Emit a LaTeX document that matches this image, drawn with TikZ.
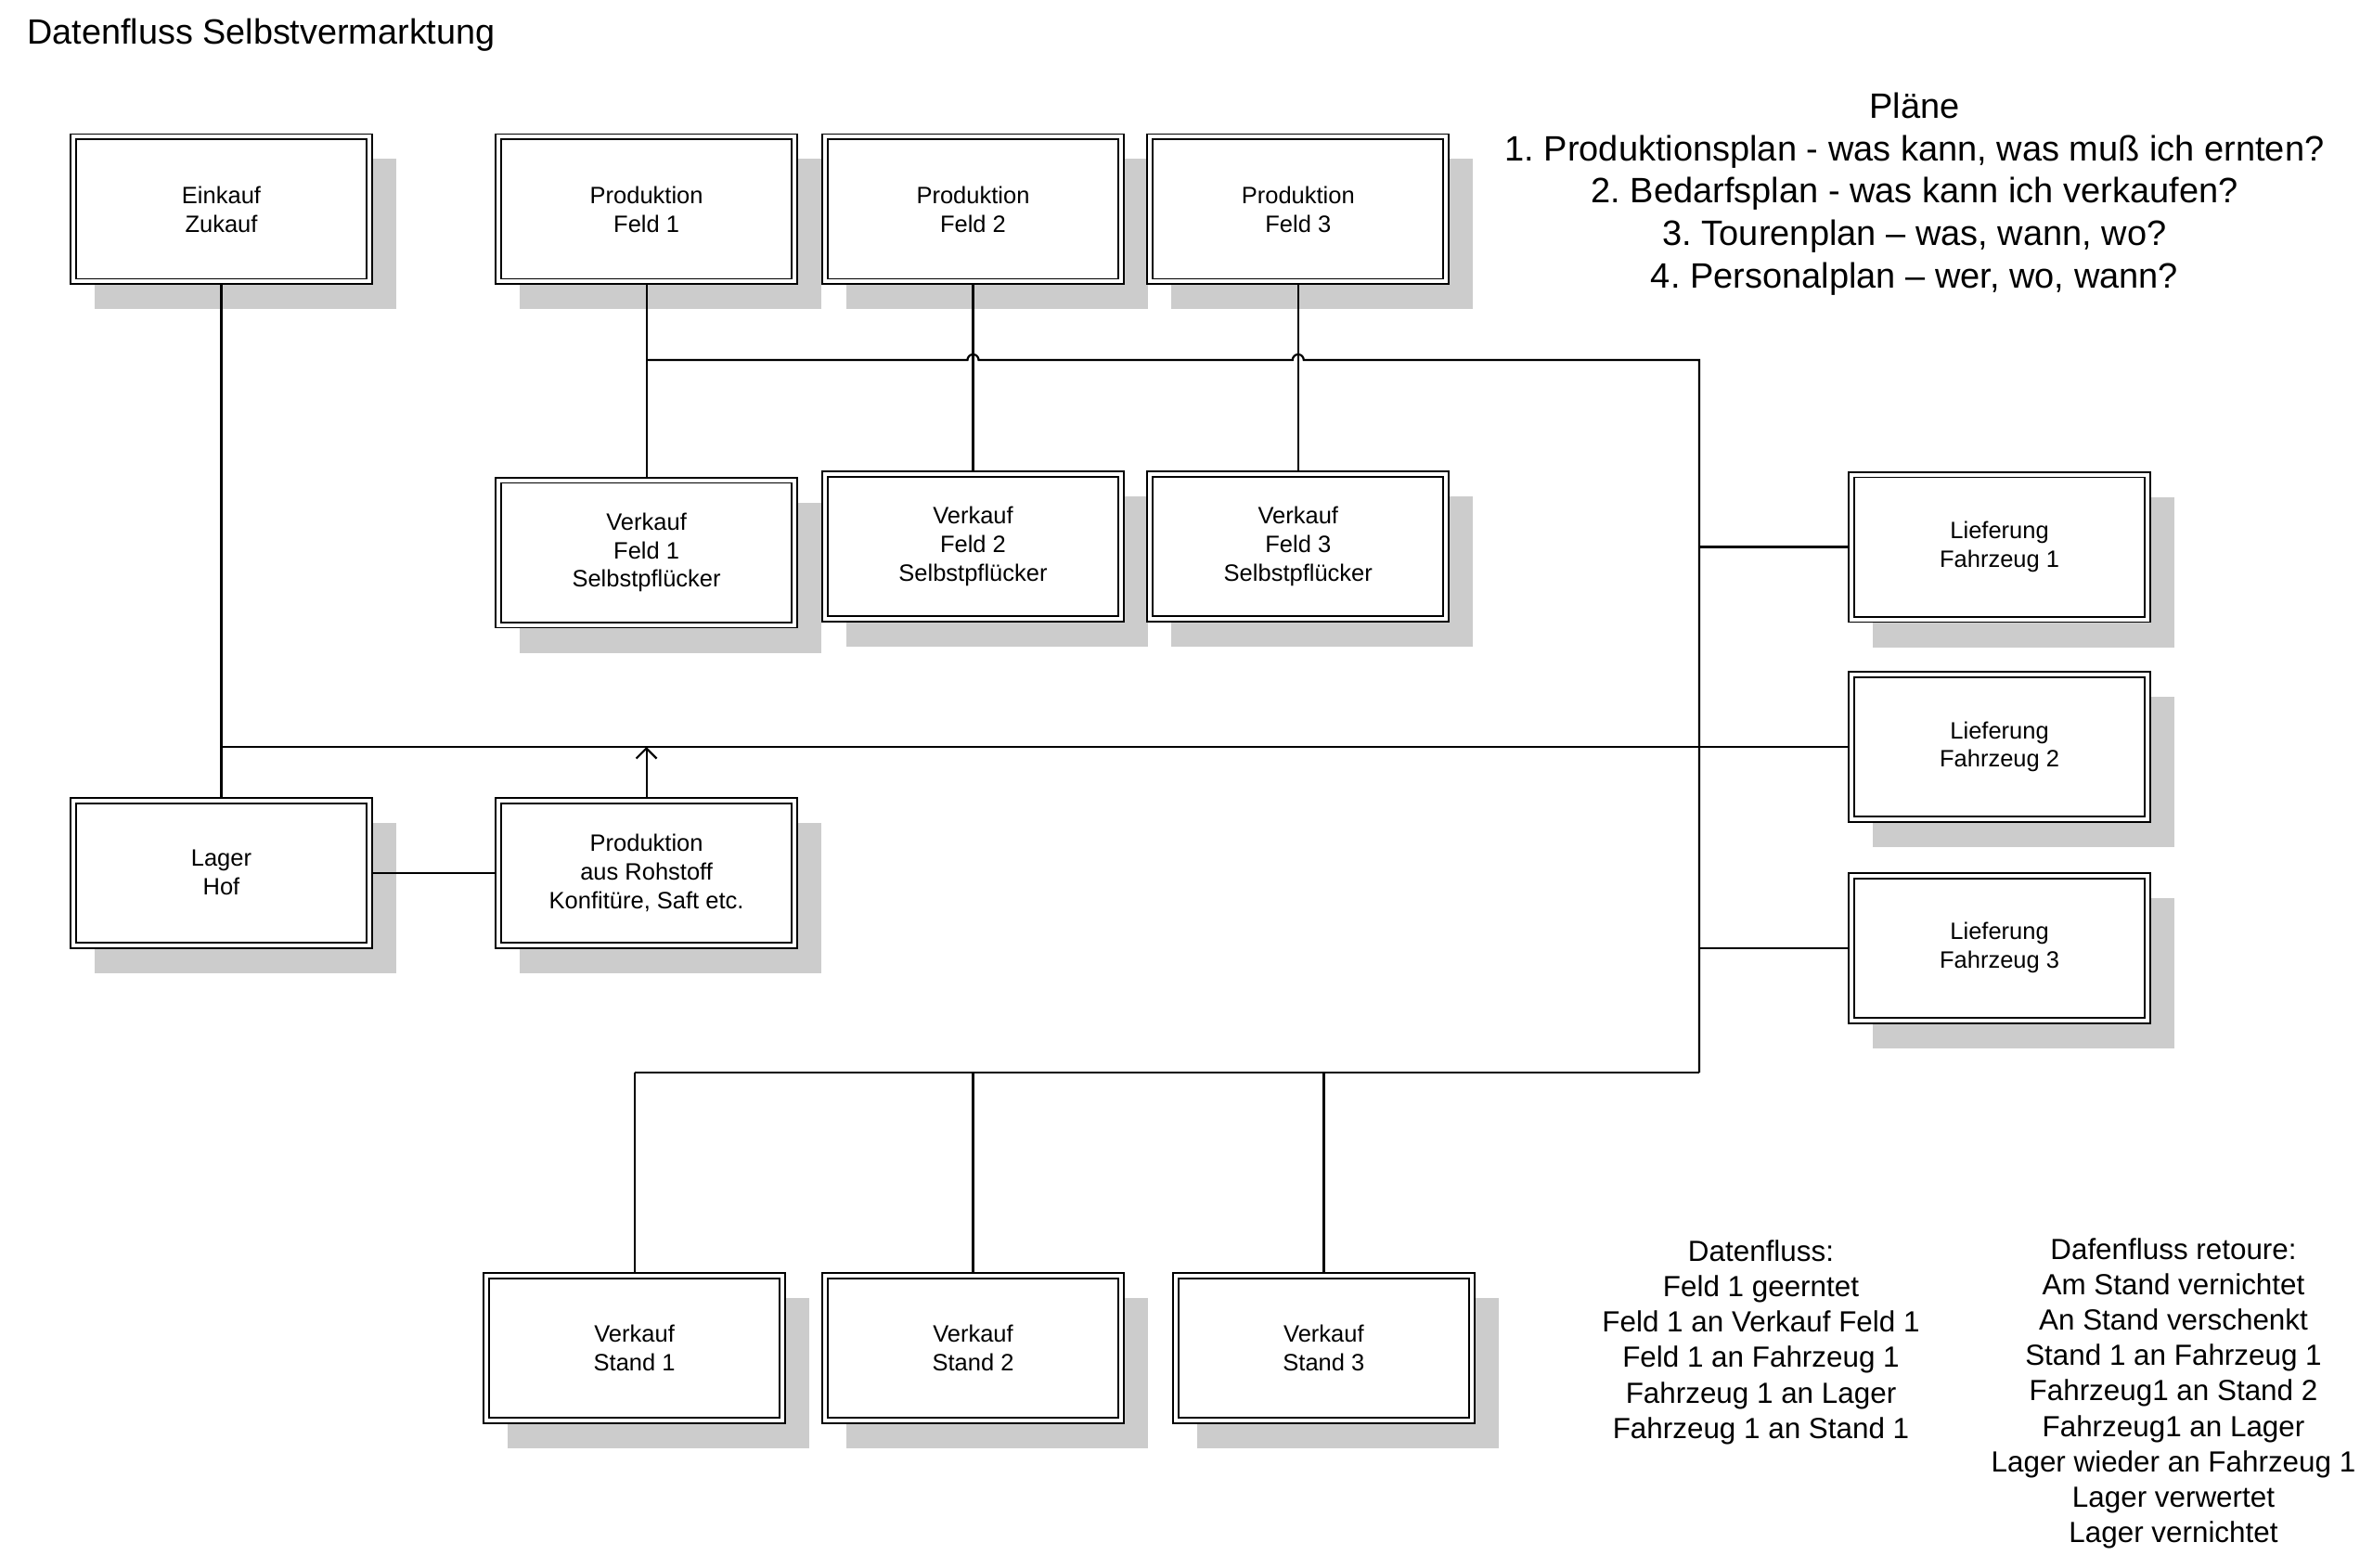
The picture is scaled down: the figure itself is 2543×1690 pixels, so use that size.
\documentclass[tikz,border=0pt]{standalone}
\usepackage{fontspec}
\setmainfont{Liberation Sans}
\frenchspacing
\usetikzlibrary{arrows.meta,calc}
\pgfdeclarelayer{shadowlayer}
\pgfdeclarelayer{connlayer}
\pgfsetlayers{shadowlayer,connlayer,main}
\definecolor{shadowgray}{RGB}{204,204,204}
\tikzset{
  box/.style={draw, line width=0.95pt, double=white, double distance=2pt, fill=white,
    minimum width=159.5pt, minimum height=78pt, inner sep=0pt, outer sep=0pt,
    align=center, font=\fontsize{12.75}{15.4}\selectfont},
  conn/.style={line width=1.1pt},
  plaintext/.style={inner sep=0pt, align=center},
}
\begin{document}
\begin{tikzpicture}[x=0.5pt,y=-0.5pt]
\useasboundingbox (0,0) rectangle (2543,1690);
\begin{pgfonlayer}{shadowlayer}
  \fill[white] (0,0) rectangle (2543,1690);
\end{pgfonlayer}

% boxes
\node[box] (einkauf) at (238.5,225.5) {Einkauf\\Zukauf};
\node[box] (pf1) at (696.6,225.5) {Produktion\\Feld 1};
\node[box] (pf2) at (1048.5,225.5) {Produktion\\Feld 2};
\node[box] (pf3) at (1398.8,225.5) {Produktion\\Feld 3};
\node[box] (vf1) at (696.6,595.5) {Verkauf\\Feld 1\\Selbstpflücker};
\node[box] (vf2) at (1048.5,588.7) {Verkauf\\Feld 2\\Selbstpflücker};
\node[box] (vf3) at (1398.8,588.7) {Verkauf\\Feld 3\\Selbstpflücker};
\node[box] (lf1) at (2154.6,589.5) {Lieferung\\Fahrzeug 1};
\node[box] (lf2) at (2154.6,805) {Lieferung\\Fahrzeug 2};
\node[box] (lf3) at (2154.6,1021.7) {Lieferung\\Fahrzeug 3};
\node[box] (lager) at (238.5,940.7) {Lager\\Hof};
\node[box] (proh) at (696.6,940.7) {Produktion\\aus Rohstoff\\Konfitüre, Saft etc.};
\node[box] (vs1) at (683.6,1453) {Verkauf\\Stand 1};
\node[box] (vs2) at (1048.5,1453) {Verkauf\\Stand 2};
\node[box] (vs3) at (1426.4,1453) {Verkauf\\Stand 3};

% shadows
\begin{pgfonlayer}{shadowlayer}
  \foreach \n in {einkauf,pf1,pf2,pf3,vf1,vf2,vf3,lf1,lf2,lf3,lager,proh,vs1,vs2,vs3}
    \fill[shadowgray] ($(\n.north west)+(11.5pt,-12pt)$) rectangle ($(\n.south east)+(14.5pt,-15pt)$);
\end{pgfonlayer}

% helper coordinates
\coordinate (topbus) at (0,388);
\coordinate (midbus) at (0,805);
\coordinate (botbus) at (0,1156);
\coordinate (trunkx) at (1831,0);

% connectors
\begin{pgfonlayer}{connlayer}
  \draw[conn] (einkauf.south) -- (lager.north);
  \draw[conn] (pf1.south) -- (vf1.north);
  \draw[conn] (pf2.south) -- (vf2.north);
  \draw[conn] (pf3.south) -- (vf3.north);
  \draw[conn] (pf1.south |- topbus) -- ($(pf2.south |- topbus)+(-3pt,0)$)
     arc[start angle=180,end angle=0,radius=3pt]
     -- ($(pf3.south |- topbus)+(-3pt,0)$)
     arc[start angle=180,end angle=0,radius=3pt]
     -- (trunkx |- topbus) -- (trunkx |- botbus);
  \draw[conn] (trunkx |- lf1.west) -- (lf1.west);
  \draw[conn] (einkauf.south |- midbus) -- (lf2.west);
  \draw[conn] (trunkx |- lf3.west) -- (lf3.west);
  \draw[conn] (lager.east) -- (proh.west);
  \draw[conn,-{Straight Barb[length=5.5pt,width=11pt]}] (proh.north) -- (proh.north |- midbus);
  \draw[conn] (vs1.north |- botbus) -- (trunkx |- botbus);
  \draw[conn] (vs1.north |- botbus) -- (vs1.north);
  \draw[conn] (vs2.north |- botbus) -- (vs2.north);
  \draw[conn] (vs3.north |- botbus) -- (vs3.north);
\end{pgfonlayer}

% texts
\node[inner sep=0pt, anchor=base west, font=\fontsize{18.9}{22}\selectfont] (title) at (29,48) {Datenfluss Selbstvermarktung};
\node[plaintext, font=\fontsize{19}{22.9}\selectfont] (plans) at (2063,209)
  {Pläne\\1. Produktionsplan - was kann, was muß ich ernten?\\2. Bedarfsplan - was kann ich verkaufen?\\3. Tourenplan – was, wann, wo?\\4. Personalplan – wer, wo, wann?};
\node[plaintext, font=\fontsize{15.7}{19.1}\selectfont] (df) at (1897.5,1446.7)
  {Datenfluss:\\Feld 1 geerntet\\Feld 1 an Verkauf Feld 1\\Feld 1 an Fahrzeug 1\\Fahrzeug 1 an Lager\\Fahrzeug 1 an Stand 1};
\node[plaintext, font=\fontsize{15.7}{19.1}\selectfont] (dfr) at (2342,1501.8)
  {Dafenfluss retoure:\\Am Stand vernichtet\\An Stand verschenkt\\Stand 1 an Fahrzeug 1\\Fahrzeug1 an Stand 2\\Fahrzeug1 an Lager\\Lager wieder an Fahrzeug 1\\Lager verwertet\\Lager vernichtet};
\end{tikzpicture}
\end{document}
